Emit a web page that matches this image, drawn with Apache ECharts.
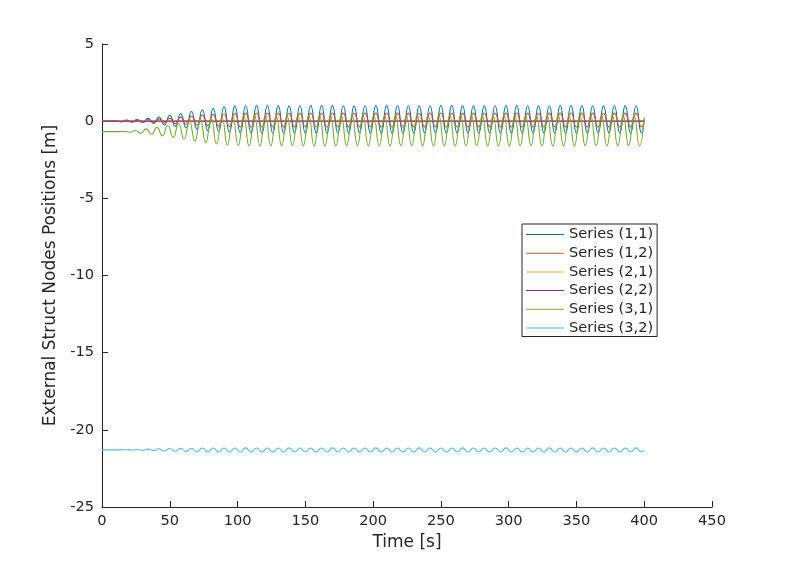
<!DOCTYPE html>
<html>
<head>
<meta charset="utf-8">
<script src="https://cdn.jsdelivr.net/npm/echarts@6/dist/echarts.min.js"></script>
<style>html,body{margin:0;padding:0;background:#fff}#c{width:787px;height:570px}</style>
</head>
<body>
<div id="c"></div>
<script>
// Axis ticks
var xTicks = [0, 50, 100, 150, 200, 250, 300, 350, 400, 450];
var yTicks = [-25, -20, -15, -10, -5, 0, 5];
var seriesNames = ['Series (1,1)', 'Series (1,2)', 'Series (2,1)', 'Series (2,2)', 'Series (3,1)', 'Series (3,2)'];

// Time stamps (s) of the read extrema for series (1,1), (1,2), (3,2)
var tA = [0,
  2,6,10,14,18,22,26,30,34,38,
  42,46,50,54,58,62,66,70,74,78,
  82,86,90,94,98,102,106,110,114,118,
  122,126,130,134,138,142,146,150,154,158,
  162,166,170,174,178,182,186,190,194,198,
  202,206,210,214,218,222,226,230,234,238,
  242,246,250,254,258,262,266,270,274,278,
  282,286,290,294,298,302,306,310,314,318,
  322,326,330,334,338,342,346,350,354,358,
  362,366,370,374,378,382,386,390,394,398,
  400];

// Time stamps (s) of the read extrema for series (3,1)
var tG = [0,
  0.5,4.5,8.5,12.5,16.5,20.5,24.5,28.5,32.5,36.5,
  40.5,44.5,48.5,52.5,56.5,60.5,64.5,68.5,72.5,76.5,
  80.5,84.5,88.5,92.5,96.5,100.5,104.5,108.5,112.5,116.5,
  120.5,124.5,128.5,132.5,136.5,140.5,144.5,148.5,152.5,156.5,
  160.5,164.5,168.5,172.5,176.5,180.5,184.5,188.5,192.5,196.5,
  200.5,204.5,208.5,212.5,216.5,220.5,224.5,228.5,232.5,236.5,
  240.5,244.5,248.5,252.5,256.5,260.5,264.5,268.5,272.5,276.5,
  280.5,284.5,288.5,292.5,296.5,300.5,304.5,308.5,312.5,316.5,
  320.5,324.5,328.5,332.5,336.5,340.5,344.5,348.5,352.5,356.5,
  360.5,364.5,368.5,372.5,376.5,380.5,384.5,388.5,392.5,396.5,
  400];

// Series (1,1)
var s11 = [0,
  0,0, 0.03,-0.04, 0.07,-0.06, 0.1,-0.09, 0.18,-0.15,
  0.27,-0.24, 0.38,-0.34, 0.5,-0.44, 0.63,-0.53, 0.74,-0.61,
  0.84,-0.67, 0.93,-0.72, 0.99,-0.76, 1.0,-0.78, 1.02,-0.79,
  1.03,-0.78, 1.01,-0.77, 0.99,-0.76, 1.0,-0.77, 1.02,-0.79,
  1.03,-0.79, 1.02,-0.78, 1.0,-0.77, 0.99,-0.76, 1.0,-0.77,
  1.01,-0.78, 1.02,-0.79, 1.01,-0.78, 1.0,-0.77, 0.99,-0.76,
  1.0,-0.77, 1.02,-0.78, 1.02,-0.79, 1.01,-0.78, 1.0,-0.77,
  0.99,-0.76, 1.0,-0.77, 1.01,-0.78, 1.02,-0.78, 1.0,-0.77,
  0.99,-0.76, 1.0,-0.77, 1.01,-0.78, 1.02,-0.79, 1.01,-0.78,
  1.0,-0.77, 0.99,-0.76, 1.0,-0.77, 1.01,-0.78, 1.0,-0.77,
  0.12];

// Series (1,2)
var s12 = [0,
  0,0, 0.03,-0.03, 0.05,-0.05, 0.07,-0.07, 0.11,-0.09,
  0.15,-0.12, 0.2,-0.16, 0.26,-0.2, 0.33,-0.25, 0.39,-0.29,
  0.44,-0.33, 0.48,-0.35, 0.51,-0.37, 0.52,-0.38, 0.53,-0.38,
  0.53,-0.38, 0.52,-0.37, 0.51,-0.37, 0.52,-0.37, 0.53,-0.38,
  0.53,-0.38, 0.53,-0.38, 0.52,-0.37, 0.51,-0.37, 0.52,-0.37,
  0.52,-0.38, 0.53,-0.38, 0.52,-0.38, 0.52,-0.37, 0.51,-0.37,
  0.52,-0.37, 0.53,-0.38, 0.53,-0.38, 0.52,-0.38, 0.52,-0.37,
  0.51,-0.37, 0.52,-0.37, 0.52,-0.38, 0.53,-0.38, 0.52,-0.37,
  0.51,-0.37, 0.52,-0.37, 0.52,-0.38, 0.53,-0.38, 0.52,-0.38,
  0.52,-0.37, 0.51,-0.37, 0.52,-0.37, 0.52,-0.38, 0.52,-0.37,
  0.07];

// Series (2,1) and (2,2)
var tFlat = [0, 100, 200, 300, 400];
var s21 = [0, 0, 0, 0, 0];
var s22 = [0, 0, 0, 0, 0];

// Series (3,1)
var s31 = [-0.68,
  -0.68,-0.68, -0.68,-0.68, -0.66,-0.72, -0.6,-0.78, -0.5,-0.85,
  -0.4,-0.95, -0.28,-1.05, -0.15,-1.17, -0.02,-1.3, 0.1,-1.4,
  0.2,-1.48, 0.27,-1.54, 0.32,-1.58, 0.35,-1.6, 0.37,-1.61,
  0.38,-1.6, 0.36,-1.59, 0.35,-1.58, 0.36,-1.6, 0.37,-1.61,
  0.38,-1.61, 0.37,-1.6, 0.36,-1.59, 0.35,-1.58, 0.36,-1.6,
  0.37,-1.61, 0.37,-1.6, 0.36,-1.59, 0.35,-1.58, 0.36,-1.6,
  0.37,-1.61, 0.38,-1.61, 0.37,-1.6, 0.36,-1.59, 0.35,-1.58,
  0.36,-1.6, 0.37,-1.61, 0.37,-1.6, 0.36,-1.59, 0.35,-1.58,
  0.36,-1.6, 0.37,-1.61, 0.38,-1.61, 0.37,-1.6, 0.36,-1.59,
  0.35,-1.58, 0.36,-1.6, 0.37,-1.6, 0.36,-1.59, 0.36,-1.6,
  0.25];

// Series (3,2)
var s32 = [-21.3,
  -21.3,-21.3, -21.3,-21.3, -21.29,-21.31, -21.27,-21.33, -21.25,-21.35,
  -21.23,-21.37, -21.21,-21.39, -21.2,-21.41, -21.19,-21.42, -21.18,-21.43,
  -21.18,-21.43, -21.18,-21.44, -21.18,-21.44, -21.17,-21.44, -21.18,-21.44,
  -21.18,-21.43, -21.18,-21.44, -21.17,-21.44, -21.18,-21.44, -21.18,-21.43,
  -21.18,-21.44, -21.17,-21.44, -21.18,-21.44, -21.18,-21.43, -21.18,-21.44,
  -21.17,-21.44, -21.18,-21.44, -21.18,-21.43, -21.18,-21.44, -21.17,-21.44,
  -21.18,-21.44, -21.18,-21.43, -21.18,-21.44, -21.17,-21.44, -21.18,-21.44,
  -21.18,-21.43, -21.18,-21.44, -21.17,-21.44, -21.18,-21.44, -21.18,-21.43,
  -21.18,-21.44, -21.17,-21.44, -21.18,-21.44, -21.18,-21.43, -21.18,-21.44,
  -21.17,-21.44, -21.18,-21.44, -21.18,-21.43, -21.18,-21.44, -21.17,-21.44,
  -21.31];

var colors = ['#0072BD', '#D95319', '#EDB120', '#7E2F8E', '#77AC30', '#4DBEEE'];

function zip(t, v) { return t.map(function (x, i) { return [x, v[i]]; }); }

var seriesData = [zip(tA, s11), zip(tA, s12), zip(tFlat, s21), zip(tFlat, s22), zip(tG, s31), zip(tA, s32)];

var axisCol = '#262626';
var font = 'DejaVu Sans';

var chart = echarts.init(document.getElementById('c'), null, { renderer: 'canvas' });
chart.setOption({
  animation: false,
  backgroundColor: '#ffffff',
  color: colors,
  textStyle: { fontFamily: font },
  grid: { left: 102, right: 75, top: 44, bottom: 63, containLabel: false },
  xAxis: {
    type: 'value', min: 0, max: 450, interval: 50,
    name: 'Time [s]', nameLocation: 'middle', nameGap: 27,
    nameTextStyle: { fontSize: 17, color: axisCol, fontFamily: font },
    axisLine: { show: true, onZero: false, lineStyle: { color: axisCol, width: 1 } },
    axisTick: { show: true, inside: true, length: 6, lineStyle: { color: axisCol } },
    axisLabel: { fontSize: 14.6, color: axisCol, margin: 7, fontFamily: font,
      formatter: function (v) { return xTicks.indexOf(v) >= 0 ? String(v) : ''; } },
    splitLine: { show: false }
  },
  yAxis: {
    type: 'value', min: -25, max: 5, interval: 5,
    name: 'External Struct Nodes Positions [m]', nameLocation: 'middle', nameGap: 38,
    nameTextStyle: { fontSize: 17, color: axisCol, fontFamily: font },
    axisLine: { show: true, onZero: false, lineStyle: { color: axisCol, width: 1 } },
    axisTick: { show: true, inside: true, length: 6, lineStyle: { color: axisCol } },
    axisLabel: { fontSize: 14.6, color: axisCol, margin: 8, fontFamily: font,
      formatter: function (v) { return yTicks.indexOf(v) >= 0 ? String(v) : ''; } },
    splitLine: { show: false }
  },
  legend: {
    orient: 'vertical', left: 522, top: 224,
    data: seriesNames,
    icon: 'rect',
    itemWidth: 38, itemHeight: 1, itemGap: 3.7,
    padding: [3, 4, 1, 4],
    borderColor: axisCol, borderWidth: 1, backgroundColor: '#ffffff',
    textStyle: { fontSize: 14.6, color: axisCol, fontFamily: font }
  },
  series: seriesNames.map(function (n, i) {
    return {
      name: n, type: 'line', data: seriesData[i],
      showSymbol: false, symbol: 'none',
      smooth: i === 2 || i === 3 ? false : 0.55,
      lineStyle: { width: 1.1, color: colors[i] },
      itemStyle: { color: colors[i] }
    };
  })
});
</script>
</body>
</html>
